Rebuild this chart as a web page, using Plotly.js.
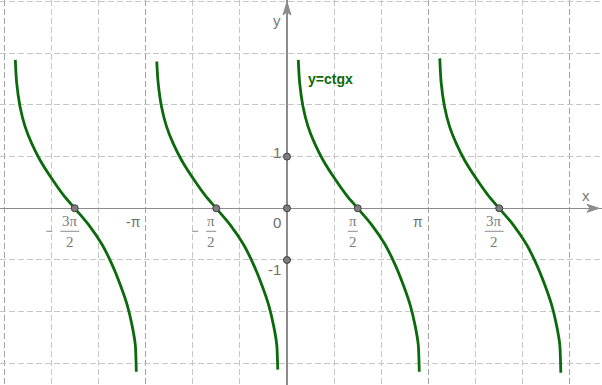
<!DOCTYPE html>
<html>
<head>
<meta charset="utf-8">
<script src="https://cdn.plot.ly/plotly-3.0.1.min.js"></script>
<style>html,body{margin:0;padding:0;background:#fff;}#chart{width:602px;height:385px;}</style>
</head>
<body>
<div id="chart"></div>
<script>
// ---- data (x in radians, y in units) ----
const branch1X = [-6.032, -6.001, -5.928, -5.815, -5.666, -5.481, -5.220, -4.959, -4.712, -4.402, -4.106, -3.883, -3.698, -3.549, -3.441, -3.368, -3.354, -3.346];
const branch1Y = [2.87, 2.42, 1.97, 1.58, 1.25, 0.93, 0.57, 0.25, 0, -0.32, -0.70, -1.09, -1.49, -1.87, -2.26, -2.64, -2.90, -3.16];

const branch2X = [-2.891, -2.860, -2.787, -2.674, -2.525, -2.340, -2.079, -1.818, -1.571, -1.261, -0.965, -0.742, -0.557, -0.408, -0.300, -0.227, -0.213, -0.205];
const branch2Y = [2.84, 2.42, 1.97, 1.58, 1.25, 0.93, 0.57, 0.25, 0, -0.32, -0.70, -1.09, -1.49, -1.87, -2.26, -2.64, -2.90, -3.12];

const branch3X = [0.251, 0.282, 0.355, 0.468, 0.617, 0.802, 1.063, 1.324, 1.571, 1.881, 2.177, 2.400, 2.585, 2.734, 2.842, 2.915, 2.929, 2.937];
const branch3Y = [2.87, 2.42, 1.97, 1.58, 1.25, 0.93, 0.57, 0.25, 0, -0.32, -0.70, -1.09, -1.49, -1.87, -2.26, -2.64, -2.90, -3.16];

const branch4X = [3.393, 3.424, 3.497, 3.610, 3.759, 3.944, 4.205, 4.466, 4.712, 5.023, 5.319, 5.542, 5.727, 5.876, 5.984, 6.057, 6.071, 6.079];
const branch4Y = [2.90, 2.42, 1.97, 1.58, 1.25, 0.93, 0.57, 0.25, 0, -0.32, -0.70, -1.09, -1.49, -1.87, -2.26, -2.64, -2.90, -3.18];

const pointX = [-4.712, -1.571, 0, 0, 0, 1.571, 4.712];
const pointY = [0, 0, 0, 1, -1, 0, 0];

// tick labels
const fracVals = [-4.712, -1.571, 1.571, 4.712];
const fracNums = ['3π', 'π', 'π', '3π'];
const fracDens = ['2', '2', '2', '2'];
const fracNeg  = [true, true, false, false];
const plainXVals = [-3.1416, 3.1416];
const plainXText = ['-π', 'π'];
const yLabelVals = [1, -1];
const yLabelText = ['1', '-1'];
const curveLabel = 'y=ctgx';

// ---- drawing ----
const green = '#0b6a0b';
const traces = [];
[[branch1X, branch1Y], [branch2X, branch2Y], [branch3X, branch3Y], [branch4X, branch4Y]].forEach(function (b) {
  traces.push({
    x: b[0], y: b[1], type: 'scatter', mode: 'lines',
    line: {color: green, width: 2.8, shape: 'spline', smoothing: 0.9},
    hoverinfo: 'skip'
  });
});
traces.push({
  x: pointX, y: pointY, type: 'scatter', mode: 'markers',
  marker: {size: 7, color: '#7d7d7d', line: {color: '#404040', width: 1}},
  hoverinfo: 'skip'
});

const annotations = [];
const shapes = [];
const labelGray = '#6e6e6e';

fracVals.forEach(function (v, i) {
  const w = fracNums[i].length > 1 ? 19 : 10;
  const cx = -5;
  annotations.push({x: v, y: 0, xref: 'x', yref: 'y', text: fracNums[i], showarrow: false,
    xshift: cx, yshift: -13, xanchor: 'center', yanchor: 'middle',
    font: {family: 'Liberation Serif, DejaVu Serif, serif', size: 15, color: '#7a7a7a'}});
  annotations.push({x: v, y: 0, xref: 'x', yref: 'y', text: fracDens[i], showarrow: false,
    xshift: cx, yshift: -34, xanchor: 'center', yanchor: 'middle',
    font: {family: 'Liberation Serif, DejaVu Serif, serif', size: 15, color: '#7a7a7a'}});
  shapes.push({type: 'line', xref: 'x', yref: 'y', xsizemode: 'pixel', ysizemode: 'pixel',
    xanchor: v, yanchor: 0, x0: cx - w / 2, x1: cx + w / 2, y0: -23, y1: -23,
    line: {color: '#8a8a8a', width: 1}});
  if (fracNeg[i]) {
    shapes.push({type: 'line', xref: 'x', yref: 'y', xsizemode: 'pixel', ysizemode: 'pixel',
      xanchor: v, yanchor: 0, x0: cx - w / 2 - 14, x1: cx - w / 2 - 8, y0: -23, y1: -23,
      line: {color: '#8a8a8a', width: 1}});
  }
});

plainXVals.forEach(function (v, i) {
  annotations.push({x: v, y: 0, xref: 'x', yref: 'y', text: plainXText[i], showarrow: false,
    xshift: -3, yshift: -14, xanchor: 'right', yanchor: 'middle',
    font: {family: 'Liberation Sans, Arial, sans-serif', size: 14, color: labelGray}});
});
annotations.push({x: 0, y: 0, xref: 'x', yref: 'y', text: '0', showarrow: false,
  xshift: -4, yshift: -14, xanchor: 'right', yanchor: 'middle',
  font: {family: 'Liberation Sans, Arial, sans-serif', size: 15, color: labelGray}});
yLabelVals.forEach(function (v, i) {
  annotations.push({x: 0, y: v, xref: 'x', yref: 'y', text: yLabelText[i], showarrow: false,
    xshift: -4, yshift: v > 0 ? 4 : -10, xanchor: 'right', yanchor: 'middle',
    font: {family: 'Liberation Sans, Arial, sans-serif', size: 15, color: labelGray}});
});
annotations.push({x: 6.632, y: 0, xref: 'x', yref: 'y', text: 'x', showarrow: false,
  yshift: 13, xanchor: 'center', yanchor: 'middle',
  font: {family: 'Liberation Sans, Arial, sans-serif', size: 15, color: '#7a7a7a'}});
annotations.push({x: 0, y: 3.64, xref: 'x', yref: 'y', text: 'y', showarrow: false,
  xshift: -10, xanchor: 'center', yanchor: 'middle',
  font: {family: 'Liberation Sans, Arial, sans-serif', size: 15, color: '#7a7a7a'}});
annotations.push({x: 0.415, y: 2.5, xref: 'x', yref: 'y', text: '<b>' + curveLabel + '</b>', showarrow: false,
  xanchor: 'left', yanchor: 'middle',
  font: {family: 'Liberation Sans, Arial, sans-serif', size: 14, color: green}});

// axis arrows
shapes.push({type: 'path', xref: 'paper', yref: 'y', xsizemode: 'pixel', ysizemode: 'pixel',
  xanchor: 599 / 602, yanchor: 0, path: 'M0,0 L-12,4 L-9,0 L-12,-4 Z',
  fillcolor: '#8c8c8c', line: {color: '#8c8c8c', width: 1}});
shapes.push({type: 'path', xref: 'x', yref: 'paper', xsizemode: 'pixel', ysizemode: 'pixel',
  xanchor: 0, yanchor: 1 - 2 / 385, path: 'M0,0 L-4,-13 L0,-10 L4,-13 Z',
  fillcolor: '#8c8c8c', line: {color: '#8c8c8c', width: 1}});

const layout = {
  width: 602, height: 385,
  margin: {l: 0, r: 0, t: 0, b: 0, pad: 0},
  paper_bgcolor: '#ffffff', plot_bgcolor: '#ffffff',
  showlegend: false, hovermode: false,
  xaxis: {
    range: [-6.372, 6.994], tick0: 0, dtick: Math.PI,
    showgrid: true, gridcolor: '#a3a3a3', griddash: '6px,3px', gridwidth: 1,
    minor: {tick0: 0, dtick: Math.PI / 3, showgrid: true, gridcolor: '#c6c6c6', griddash: '6px,3px', gridwidth: 1},
    zeroline: true, zerolinecolor: '#8c8c8c', zerolinewidth: 1.5,
    showticklabels: false, ticks: '', showline: false, fixedrange: true
  },
  yaxis: {
    range: [-3.418, 4.029], tick0: 0, dtick: 1,
    showgrid: true, gridcolor: '#c6c6c6', griddash: '6px,3px', gridwidth: 1,
    zeroline: true, zerolinecolor: '#8c8c8c', zerolinewidth: 1.5,
    showticklabels: false, ticks: '', showline: false, fixedrange: true
  },
  annotations: annotations,
  shapes: shapes
};

Plotly.newPlot('chart', traces, layout, {staticPlot: true, displayModeBar: false});
</script>
</body>
</html>
